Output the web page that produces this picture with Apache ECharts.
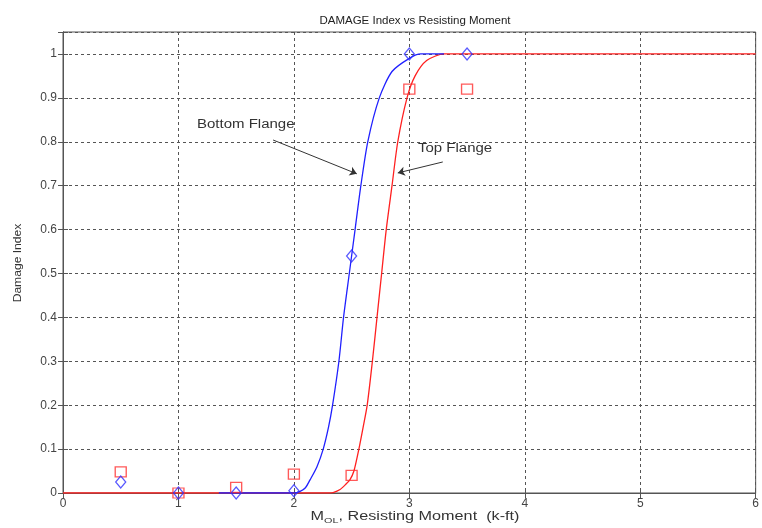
<!DOCTYPE html>
<html><head><meta charset="utf-8">
<script src="https://cdn.jsdelivr.net/npm/echarts@6/dist/echarts.min.js"></script>
<style>html,body{margin:0;padding:0;background:#fff}#c{width:762px;height:528px}</style>
</head><body><div id="c"></div>
<script>
// Measured points
const pointX = [0.5, 1, 1.5, 2, 2.5, 3, 3.5];
const bottomFlangePts = [0.025, 0.0, 0.0, 0.005, 0.54, 1.0, 1.0];
const topFlangePts = [0.048, 0.0, 0.013, 0.043, 0.04, 0.92, 0.92];
// Fitted curves
const bottomCurveX = [1.35, 2.0, 2.05, 2.1, 2.14, 2.2, 2.254, 2.3, 2.335, 2.39, 2.43, 2.48, 2.53, 2.58, 2.64, 2.74, 2.85, 3.0, 3.1, 3.3];
const bottomCurveY = [0, 0, 0.003, 0.012, 0.03, 0.06, 0.1, 0.15, 0.2, 0.3, 0.4, 0.5, 0.6, 0.7, 0.8, 0.9, 0.96, 0.99, 1.0, 1.0];
const topCurveX = [0, 2.3, 2.34, 2.4, 2.45, 2.485, 2.52, 2.563, 2.6, 2.635, 2.68, 2.72, 2.76, 2.8, 2.85, 2.9, 2.98, 3.05, 3.15, 3.3, 6];
const topCurveY = [0, 0, 0.001, 0.008, 0.02, 0.03, 0.05, 0.1, 0.15, 0.2, 0.3, 0.4, 0.5, 0.6, 0.7, 0.8, 0.9, 0.95, 0.985, 1.0, 1.0];
const xTicks = [0, 1, 2, 3, 4, 5, 6];
const yTicks = [0, 0.1, 0.2, 0.3, 0.4, 0.5, 0.6, 0.7, 0.8, 0.9, 1];

const zip = (a, b) => a.map((v, i) => [v, b[i]]);
const chart = echarts.init(document.getElementById('c'));
const font = "'Liberation Sans', Arial, sans-serif";
const gridLine = {show: true, lineStyle: {color: '#555', type: [3, 3], width: 1}};
chart.setOption({
  animation: false,
  title: {text: 'DAMAGE Index vs Resisting Moment', left: 410, textAlign: 'center', top: 10,
    textStyle: {fontSize: 11.5, fontWeight: 'normal', color: '#222', fontFamily: font}},
  grid: {left: 63, right: 6, top: 32, bottom: 35, show: true, borderColor: '#555', borderWidth: 1},
  xAxis: [{
    type: 'value', min: 0, max: 6, interval: 1,
    axisLine: {show: true, onZero: false, lineStyle: {color: '#555'}},
    axisTick: {inside: true, length: 5, lineStyle: {color: '#555'}},
    axisLabel: {color: '#444', fontSize: 12, fontFamily: font, margin: 5,
      formatter: v => xTicks.includes(v) ? String(v) : ''},
    splitLine: gridLine
  }, {
    type: 'value', min: 0, max: 6, interval: 1, position: 'top',
    axisLine: {show: true, lineStyle: {color: '#555'}},
    axisTick: {inside: true, length: 5, lineStyle: {color: '#555'}},
    axisLabel: {show: false}, splitLine: {show: false}
  }],
  yAxis: [{
    type: 'value', min: 0, max: 1.05, interval: 0.1,
    axisLine: {show: true, onZero: false, lineStyle: {color: '#555'}},
    axisTick: {inside: true, length: 5, lineStyle: {color: '#555'}},
    axisLabel: {color: '#444', fontSize: 12, fontFamily: font, margin: 6,
      formatter: v => {const r = Math.round(v * 10) / 10; return (Math.abs(v - r) < 1e-6 && yTicks.some(t => Math.abs(t - r) < 1e-6)) ? String(r) : '';}},
    splitLine: gridLine
  }, {
    type: 'value', min: 0, max: 1.05, interval: 0.1, position: 'right',
    axisLine: {show: true, lineStyle: {color: '#555'}},
    axisTick: {inside: true, length: 5, lineStyle: {color: '#555'}},
    axisLabel: {show: false}, splitLine: {show: false}
  }],
  graphic: [
    {type: 'text', x: 197, y: 119, scaleX: 1.25, style: {text: 'Bottom Flange', fill: '#333', fontSize: 12, fontFamily: font}},
    {type: 'text', x: 418, y: 143, scaleX: 1.25, style: {text: 'Top Flange', fill: '#333', fontSize: 12, fontFamily: font}},
    {type: 'text', x: 415, y: 517, scaleX: 1.35,
      style: {text: '{m|M}{s|OL}{m|, Resisting Moment  (k-ft)}', align: 'center', verticalAlign: 'middle',
        rich: {m: {fontSize: 12, fill: '#333', fontFamily: font},
               s: {fontSize: 8, fill: '#333', fontFamily: font, padding: [8, 0, 0, 0]}}}},
    {type: 'text', x: 18, y: 263, rotation: Math.PI / 2, scaleX: 1.1,
      style: {text: 'Damage Index', align: 'center', verticalAlign: 'middle', fill: '#333', fontSize: 11, fontFamily: font}}
  ],
  series: [
    {type: 'line', name: 'Top curve', data: zip(topCurveX, topCurveY), smooth: 0.25, showSymbol: false,
      lineStyle: {color: '#ff2020', width: 1.3}, z: 2,
      markLine: {silent: true, symbol: ['none', 'arrow'], symbolSize: 7,
        lineStyle: {color: '#333', width: 1, type: 'solid'}, label: {show: false},
        data: [
          [{coord: [1.82, 0.804]}, {coord: [2.545, 0.727]}],
          [{coord: [3.29, 0.754]}, {coord: [2.9, 0.729]}]
        ]}},
    {type: 'line', name: 'Bottom curve', data: zip(bottomCurveX, bottomCurveY), smooth: 0.25, showSymbol: false,
      lineStyle: {color: '#2020ff', width: 1.3}, z: 3},
    {type: 'scatter', name: 'Top Flange', data: zip(pointX, topFlangePts), symbol: 'rect', symbolSize: [11, 10],
      itemStyle: {color: 'rgba(0,0,0,0)', borderColor: '#ff3030', borderWidth: 1.3}, z: 4},
    {type: 'scatter', name: 'Bottom Flange', data: zip(pointX, bottomFlangePts), symbol: 'diamond', symbolSize: [10, 12],
      itemStyle: {color: 'rgba(0,0,0,0)', borderColor: '#3030ff', borderWidth: 1.3}, z: 5}
  ]
});
</script></body></html>
